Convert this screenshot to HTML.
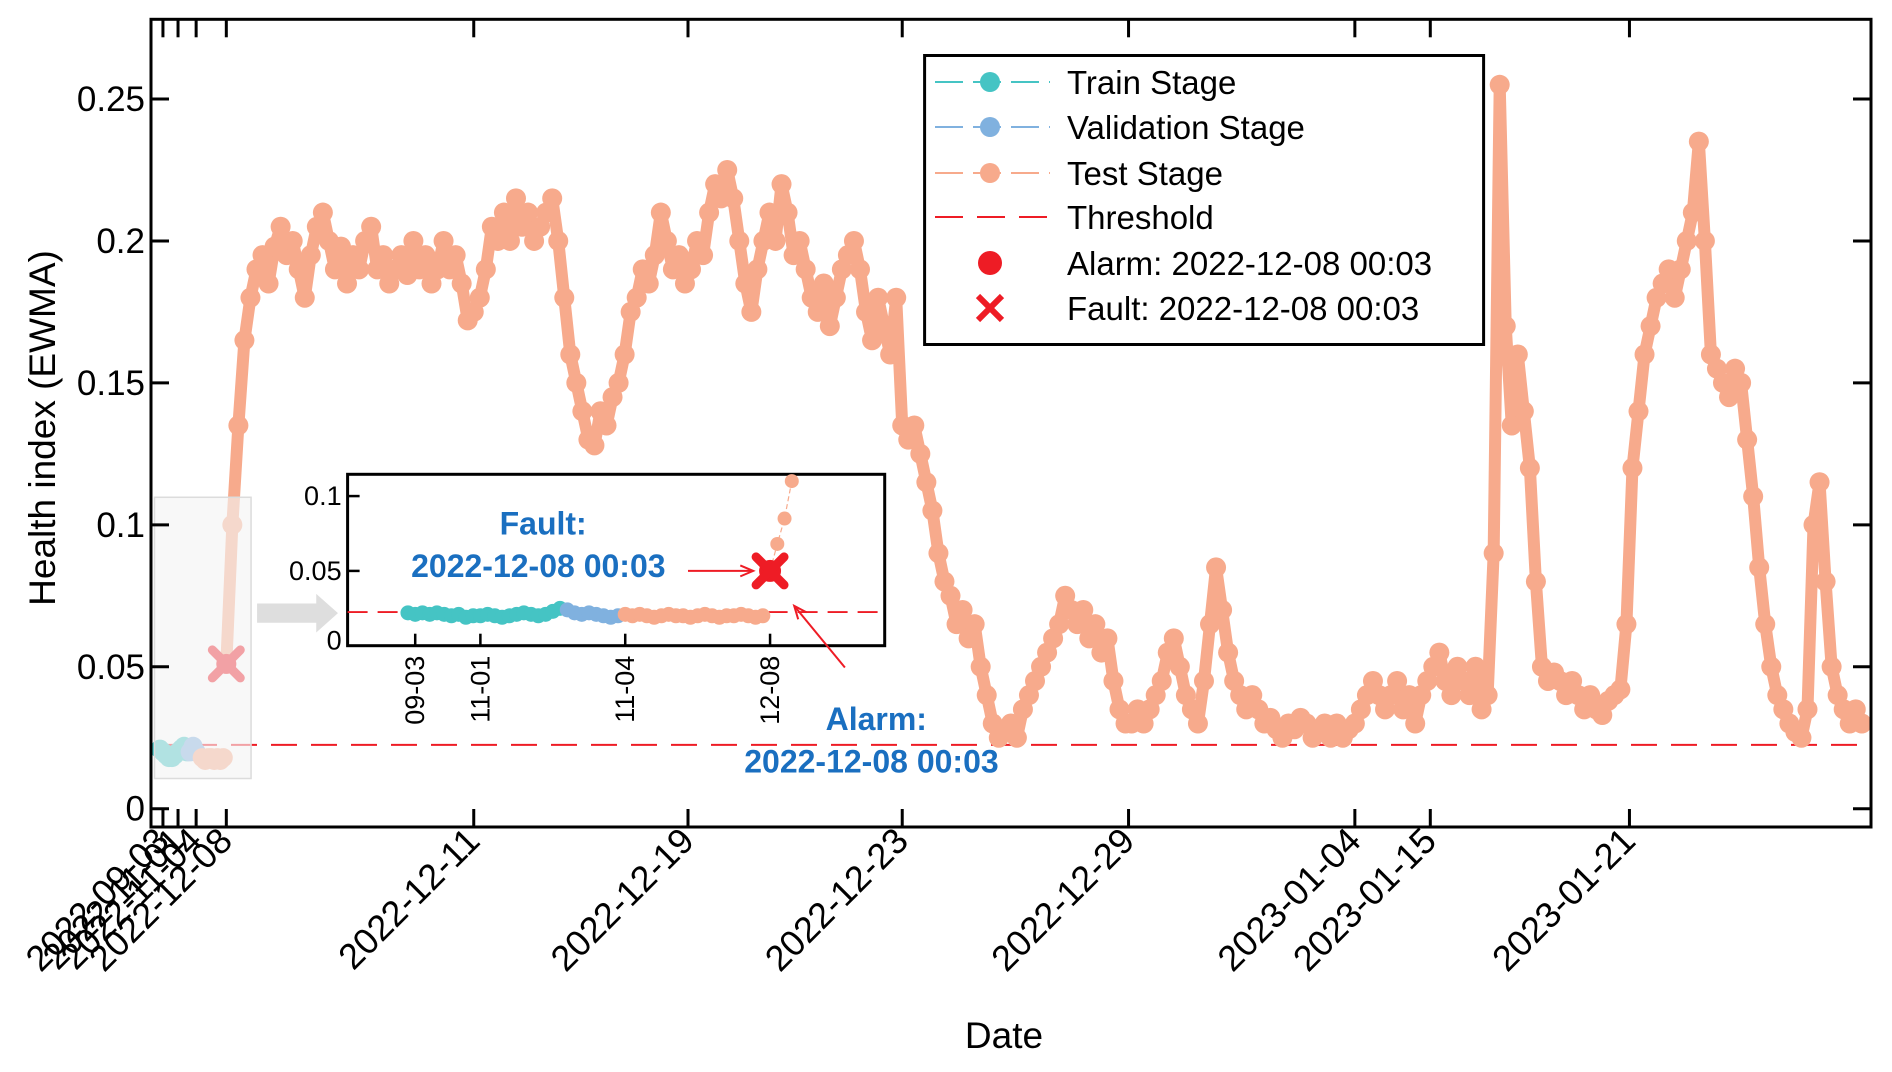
<!DOCTYPE html>
<html><head><meta charset="utf-8"><style>
html,body{margin:0;padding:0;background:#fff}
svg{display:block;font-family:"Liberation Sans",sans-serif}
</style></head><body>
<svg id="chart" width="1892" height="1072" viewBox="0 0 1892 1072" xmlns="http://www.w3.org/2000/svg"></svg>
<script>
// ---- data ----
const xTickLabels = ["2022-09-03","2022-11-01","2022-11-04","2022-12-08","2022-12-11","2022-12-19","2022-12-23","2022-12-29","2023-01-04","2023-01-15","2023-01-21"];
const xTickIndex = [4,9,15,25,107,178,249,324,399,424,490];
const yTicks = [0,0.05,0.1,0.15,0.2,0.25];
const yTickLabels = ["0","0.05","0.1","0.15","0.2","0.25"];
const threshold = 0.0225;
const mainTrain = [0.021,0.02,0.019,0.018,0.018,0.019,0.02,0.021,0.022,0.02];
const mainVal = [0.02,0.022,0.02];
const mainPre = [0.018,0.017,0.018,0.018,0.017,0.018,0.017,0.018];
const testValues = [0.051,0.100,0.135,0.165,0.18,0.19,0.195,0.185,0.198,0.205,0.195,0.2,0.19,0.18,0.195,0.205,0.21,0.2,0.19,0.198,
0.185,0.195,0.19,0.2,0.205,0.19,0.195,0.185,0.19,0.195,0.188,0.2,0.19,0.195,0.185,0.19,0.2,0.19,0.195,0.185,
0.172,0.175,0.18,0.19,0.205,0.2,0.21,0.2,0.215,0.205,0.21,0.2,0.205,0.21,0.215,0.2,0.18,0.16,0.15,0.14,
0.13,0.128,0.14,0.135,0.145,0.15,0.16,0.175,0.18,0.19,0.185,0.195,0.21,0.2,0.19,0.195,0.185,0.19,0.2,0.195,
0.21,0.22,0.215,0.225,0.215,0.2,0.185,0.175,0.19,0.2,0.21,0.2,0.22,0.21,0.195,0.2,0.19,0.18,0.175,0.185,
0.17,0.18,0.19,0.195,0.2,0.19,0.175,0.165,0.18,0.17,0.16,0.18,0.135,0.13,0.135,0.125,0.115,0.105,0.09,0.08,
0.075,0.065,0.07,0.06,0.065,0.05,0.04,0.03,0.025,0.028,0.03,0.025,0.035,0.04,0.045,0.05,0.055,0.06,0.065,0.075,
0.07,0.065,0.07,0.06,0.065,0.055,0.06,0.045,0.035,0.03,0.03,0.035,0.03,0.035,0.04,0.045,0.055,0.06,0.05,0.04,
0.035,0.03,0.045,0.065,0.085,0.07,0.055,0.045,0.04,0.035,0.04,0.035,0.03,0.032,0.028,0.025,0.03,0.028,0.032,0.03,
0.025,0.028,0.03,0.025,0.03,0.025,0.028,0.03,0.035,0.04,0.045,0.04,0.035,0.04,0.045,0.035,0.04,0.03,0.04,0.045,
0.05,0.055,0.045,0.04,0.05,0.045,0.04,0.05,0.035,0.04,0.09,0.255,0.17,0.135,0.16,0.14,0.12,0.08,0.05,0.045,
0.048,0.045,0.04,0.045,0.04,0.035,0.04,0.035,0.033,0.038,0.04,0.042,0.065,0.12,0.14,0.16,0.17,0.18,0.185,0.19,
0.18,0.19,0.2,0.21,0.235,0.2,0.16,0.155,0.15,0.145,0.155,0.15,0.13,0.11,0.085,0.065,0.05,0.04,0.035,0.03,
0.027,0.025,0.035,0.1,0.115,0.08,0.05,0.04,0.035,0.03,0.035,0.03];
const insetTrain = [0.022,0.021,0.022,0.021,0.022,0.021,0.02,0.021,0.019,0.02,0.02,0.021,0.02,0.019,0.02,0.021,0.022,0.021,0.02,0.021,0.023,0.025];
const insetVal = [0.024,0.022,0.021,0.022,0.021,0.02,0.019,0.02];
const insetTest = [0.021,0.02,0.021,0.02,0.019,0.02,0.021,0.02,0.02,0.019,0.02,0.021,0.02,0.019,0.02,0.02,0.021,0.02,0.019,0.02];
const insetAfter = [0.05,0.068,0.085,0.11];
const insetXTickLabels = ["09-03","11-01","11-04","12-08"];
const insetXTickIndex = [1,10,30,50];
const insetYTicks = [0,0.05,0.1];
const insetYTickLabels = ["0","0.05","0.1"];
const alarmValue = 0.051;

// ---- scales ----
const S = 1.207;
const L = 151, R = 1871, T = 19.3, B = 827;
const xMain = k => S*(125 + 2.5*k);
const yMain = v => 808.7 - v*2838.8;
const IL = 347.6, IR = 884.7, IT = 474.3, IB = 645.7;
const xIn = j => S*(338 + 6*j);
const yIn = v => S*(535 - v*1240);

const C = {train:"#45c4c4", val:"#80b1df", test:"#f7aa8c", red:"#ee1c25", blue:"#1a6fc0"};
const svg = document.getElementById('chart');
const NS = "http://www.w3.org/2000/svg";
function mk(tag, attrs, parent){const e=document.createElementNS(NS,tag);for(const a in attrs)e.setAttribute(a,attrs[a]);(parent||svg).appendChild(e);return e;}

// threshold main
const th = mk('line',{x1:L,x2:R,y1:yMain(threshold),y2:yMain(threshold),stroke:C.red,'stroke-width':2,'stroke-dasharray':'26 14'});



// test connecting band
const testPts = testValues.map((v,i)=>xMain(25+2*i)+','+yMain(v)).join(' ');
const tl = mk('polyline',{points:testPts,fill:'none',stroke:C.test,'stroke-width':12,'stroke-linejoin':'round','stroke-linecap':'round'});



function dots(vals, kf, yf, color, r, name){
  const g = mk('g',{fill:color});
  
  
  vals.forEach((v,i)=>{const c=mk('circle',{cx:kf(i),cy:yf(v),r:r},g);
    
    });
}
dots(mainTrain, i=>xMain(3+i), yMain, C.train, 9.5, 'train-stage-series');
dots(mainVal, i=>xMain(13+i), yMain, C.val, 9.5, 'validation-stage-series');
dots(mainPre, i=>xMain(17+i), yMain, C.test, 9.5, 'test-stage-early-series');
dots(testValues, i=>xMain(25+2*i), yMain, C.test, 10, 'test-stage-series');

// main alarm / fault
const am = mk('circle',{cx:xMain(25),cy:yMain(alarmValue),r:10,fill:C.red});


function cross(x,y,s,w,name){const p=mk('path',{d:`M${x-s},${y-s}L${x+s},${y+s}M${x-s},${y+s}L${x+s},${y-s}`,stroke:C.red,'stroke-width':w,'stroke-linecap':'round'});

}
cross(xMain(25),yMain(alarmValue),14,9,'fault-marker');

// grey zoom box
const gb = mk('rect',{x:S*128,y:S*412,width:S*80,height:S*233,fill:'rgba(244,244,244,0.62)',stroke:'#dcdcdc','stroke-width':1.5});


const ga = mk('path',{d:`M${S*213},${S*500}L${S*262},${S*500}L${S*262},${S*492}L${S*280},${S*508}L${S*262},${S*524}L${S*262},${S*516}L${S*213},${S*516}Z`,fill:'#dedede'});



// axes frame
const fr = mk('rect',{x:L,y:T,width:R-L,height:B-T,fill:'none',stroke:'#000','stroke-width':3});


yTicks.forEach((v,i)=>{
  const y=yMain(v);
  const t1=mk('line',{x1:L,x2:L+18,y1:y,y2:y,stroke:'#000','stroke-width':3});
  
  
  const t2=mk('line',{x1:R-18,x2:R,y1:y,y2:y,stroke:'#000','stroke-width':3});
  
  
  const tx=mk('text',{x:L-6,y:y+12,'text-anchor':'end','font-size':35,fill:'#000'});
  tx.textContent=yTickLabels[i];
  
  
});
xTickIndex.forEach((k,i)=>{
  const x=xMain(k);
  const t1=mk('line',{x1:x,x2:x,y1:B,y2:B-18,stroke:'#000','stroke-width':3});
  
  
  const t2=mk('line',{x1:x,x2:x,y1:T,y2:T+18,stroke:'#000','stroke-width':3});
  
  
  const tx=mk('text',{transform:`translate(${x+8},${B+16}) rotate(-45)`,'text-anchor':'end','font-size':36,fill:'#000'});
  tx.textContent=xTickLabels[i];
  
  
});
const yt=mk('text',{transform:`translate(55,428) rotate(-90)`,'text-anchor':'middle','font-size':37,fill:'#000'});
yt.textContent='Health index (EWMA)';


const xt=mk('text',{x:1004,y:1048,'text-anchor':'middle','font-size':37,fill:'#000'});
xt.textContent='Date';



// ---- inset ----
const ib = mk('rect',{x:IL,y:IT,width:IR-IL,height:IB-IT,fill:'#fff',stroke:'#000','stroke-width':3});


const ith = mk('line',{x1:IL,x2:IR,y1:yIn(threshold),y2:yIn(threshold),stroke:C.red,'stroke-width':1.8,'stroke-dasharray':'20 10'});


const itl = mk('polyline',{points:insetAfter.map((v,i)=>xIn(50+i)+','+yIn(v)).join(' '),fill:'none',stroke:C.test,'stroke-width':1.2,'stroke-dasharray':'5 3'});


dots(insetTrain, i=>xIn(i), yIn, C.train, 7.5, 'inset-train-series');
dots(insetVal, i=>xIn(22+i), yIn, C.val, 7.5, 'inset-validation-series');
dots(insetTest, i=>xIn(30+i), yIn, C.test, 7.5, 'inset-test-series');
dots(insetAfter.slice(1), i=>xIn(51+i), yIn, C.test, 7, 'inset-test-after-series');
const iam = mk('circle',{cx:xIn(50),cy:yIn(insetAfter[0]),r:11,fill:C.red});


cross(xIn(50),yIn(insetAfter[0]),14,9,'inset-fault-marker');
insetYTicks.forEach((v,i)=>{
  const y=yIn(v);
  const t=mk('line',{x1:IL,x2:IL+12,y1:y,y2:y,stroke:'#000','stroke-width':2.5});
  
  
  const tx=mk('text',{x:IL-6,y:y+(v===0?4:9),'text-anchor':'end','font-size':27,fill:'#000'});
  tx.textContent=insetYTickLabels[i];
  
  
});
insetXTickIndex.forEach((j,i)=>{
  const x=xIn(j);
  const t=mk('line',{x1:x,x2:x,y1:IB,y2:IB-12,stroke:'#000','stroke-width':2.5});
  
  
  const tx=mk('text',{transform:`translate(${x+9},${IB+10}) rotate(-90)`,'text-anchor':'end','font-size':27,fill:'#000'});
  tx.textContent=insetXTickLabels[i];
  
  
});
// annotations
function label(x,y,txt,name){const t=mk('text',{x:x,y:y,'text-anchor':'middle','font-size':32,fill:C.blue,'font-weight':'bold'});t.textContent=txt;

}
label(S*450,S*443,'Fault:','fault-annotation-title');
label(S*446,S*478,'2022-12-08 00:03','fault-annotation-date');
label(S*726,S*605,'Alarm:','alarm-annotation-title');
label(S*722,S*640,'2022-12-08 00:03','alarm-annotation-date');
function arrow(x1,y1,x2,y2,name){
  const g=mk('g',{stroke:C.red,'stroke-width':2,fill:'none'});
  
  
  mk('line',{x1,y1,x2,y2},g);
  const a=Math.atan2(y2-y1,x2-x1),h=14;
  mk('path',{d:`M${x2-h*Math.cos(a-0.4)},${y2-h*Math.sin(a-0.4)}L${x2},${y2}L${x2-h*Math.cos(a+0.4)},${y2-h*Math.sin(a+0.4)}`},g);
}
arrow(S*570,S*473,S*624,S*473,'fault-arrow');
arrow(S*700,S*553,S*658,S*502,'alarm-arrow');

// ---- legend ----
const lg = mk('g',{});


mk('rect',{x:924.6,y:55.5,width:559,height:289,fill:'#fff',stroke:'#000','stroke-width':3},lg);
const legendRows=[["Train Stage",C.train,'line'],["Validation Stage",C.val,'line'],["Test Stage",C.test,'line'],["Threshold",C.red,'thr'],["Alarm: 2022-12-08 00:03",C.red,'dot'],["Fault: 2022-12-08 00:03",C.red,'x']];
const rowY=[82,127,173,217,263,308];
legendRows.forEach((r,i)=>{
  const y=rowY[i], g=mk('g',{},lg);
  
  
  if(r[2]==='line'){
    mk('line',{x1:935,x2:1050,y1:y,y2:y,stroke:r[1],'stroke-width':2,'stroke-dasharray':'28 10'},g);
    mk('circle',{cx:990,cy:y,r:10,fill:r[1]},g);
  } else if(r[2]==='thr'){
    mk('line',{x1:935,x2:1050,y1:y,y2:y,stroke:r[1],'stroke-width':2,'stroke-dasharray':'28 14'},g);
  } else if(r[2]==='dot'){
    mk('circle',{cx:990,cy:y,r:12,fill:r[1]},g);
  } else {
    mk('path',{d:`M978,${y-12}L1002,${y+12}M978,${y+12}L1002,${y-12}`,stroke:r[1],'stroke-width':6},g);
  }
  const t=mk('text',{x:1067,y:y+12,'font-size':33,fill:'#000'},g);
  t.textContent=r[0];
});
</script>
</body></html>
